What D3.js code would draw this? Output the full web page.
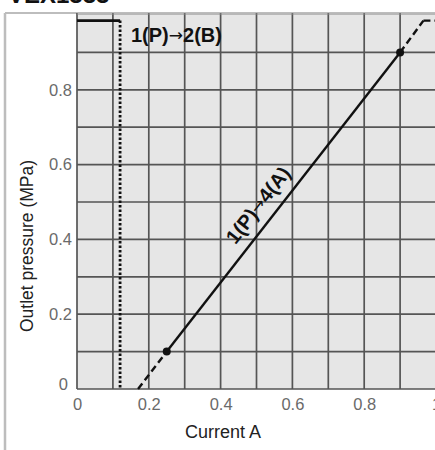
<!DOCTYPE html>
<html><head><meta charset="utf-8">
<script src="https://cdn.jsdelivr.net/npm/d3@7/dist/d3.min.js"></script>
<style>body{margin:0;background:#fff;} svg{display:block;}</style>
</head><body>
<svg id="c" width="435" height="450"></svg>
<script>
// ---- data ----
const xTickValues = [0, 0.2, 0.4, 0.6, 0.8, 1];
const xTickLabels = ["0", "0.2", "0.4", "0.6", "0.8", "1"];
const yTickValues = [0, 0.2, 0.4, 0.6, 0.8];
const yTickLabels = ["0", "0.2", "0.4", "0.6", "0.8"];
const gridSteps = [0, 0.1, 0.2, 0.3, 0.4, 0.5, 0.6, 0.7, 0.8, 0.9, 1.0];
// 1(P)->2(B) curve
const pbCurrent = [0, 0.12, 0.12];
const pbPressure = [0.985, 0.985, 0];
const pbStyle = ["solid", "dotted"];
// 1(P)->4(A) curve
const paCurrent = [0.17, 0.25, 0.9, 0.965, 1.0];
const paPressure = [0, 0.1, 0.9, 0.985, 0.985];
const paStyle = ["dashed", "solid", "dashed", "dashed"];
const markerCurrent = [0.25, 0.9];
const markerPressure = [0.1, 0.9];
const titleText = "VEX1333";
const xTitle = "Current A";
const yTitle = "Outlet pressure (MPa)";
const labelPB = ["1(P)", "\u2192", "2(B)"];
const labelPA = ["1(P)", "\u2192", "4(A)"];

// ---- layout ----
const svg = d3.select("#c");
const x = d3.scaleLinear().domain([0, 1]).range([77, 436]);
const y = d3.scaleLinear().domain([0, 1]).range([389, 15]);
const plotTop = 13;
const font = "Liberation Sans, Arial, sans-serif";

// title (cut off at top, as in the reference)
svg.append("text").attr("x", 8).attr("y", 3)
  .attr("font-family", font).attr("font-weight", "bold")
  .attr("font-size", 24).attr("fill", "#111").text(titleText);

// outer frame
svg.append("line").attr("x1", 5).attr("x2", 5).attr("y1", plotTop).attr("y2", 450)
  .attr("stroke", "#bdbdbd").attr("stroke-width", 2.5);
svg.append("line").attr("x1", 5).attr("x2", 435).attr("y1", plotTop).attr("y2", plotTop)
  .attr("stroke", "#bdbdbd").attr("stroke-width", 2);

// plot background
svg.append("rect").attr("x", x(0)).attr("y", plotTop)
  .attr("width", x(1) - x(0)).attr("height", y(0) - plotTop)
  .attr("fill", "#e6e6e6");

// grid
const g = svg.append("g").attr("stroke", "#555").attr("stroke-width", 1.7);
gridSteps.forEach(v => {
  g.append("line").attr("x1", x(v)).attr("x2", x(v)).attr("y1", plotTop).attr("y2", y(0));
});
gridSteps.forEach(v => {
  if (v <= 0.95) g.append("line").attr("x1", x(0)).attr("x2", x(1)).attr("y1", y(v)).attr("y2", y(v));
});
svg.append("line").attr("x1", x(0)).attr("x2", x(1)).attr("y1", plotTop + 1).attr("y2", plotTop + 1)
  .attr("stroke", "#8a8a8a").attr("stroke-width", 1.2);

// axes tick labels
const xAxis = d3.axisBottom(x).tickValues(xTickValues)
  .tickFormat((d, i) => xTickLabels[i]).tickSize(0).tickPadding(8);
const xa = svg.append("g").attr("transform", `translate(0,${y(0) + 1})`).call(xAxis);
xa.select(".domain").remove();
xa.selectAll("text").attr("font-family", font).attr("font-size", 16.5).attr("fill", "#6a6a6a");

const yAxis = d3.axisLeft(y).tickValues(yTickValues)
  .tickFormat((d, i) => yTickLabels[i]).tickSize(0).tickPadding(5);
const ya = svg.append("g").attr("transform", `translate(${x(0)},0)`).call(yAxis);
ya.select(".domain").remove();
ya.selectAll("text").attr("font-family", font).attr("font-size", 16.5).attr("fill", "#6a6a6a")
  .attr("dy", (d) => d === 0 ? "0.05em" : "0.32em")
  .attr("dx", (d) => d === 0 ? "-4" : "0");

// axis titles
svg.append("text").attr("x", 223).attr("y", 438).attr("text-anchor", "middle")
  .attr("font-family", font).attr("font-size", 18).attr("fill", "#222").text(xTitle);
svg.append("text").attr("transform", "translate(33,246) rotate(-90)").attr("text-anchor", "middle")
  .attr("font-family", font).attr("font-size", 17.5).attr("fill", "#222").text(yTitle);

// curves
const dashFor = s => s === "dashed" ? "7,4" : (s === "dotted" ? "2.5,2" : null);
function drawSegs(xs, ys, styles, width) {
  for (let i = 0; i < styles.length; i++) {
    svg.append("line")
      .attr("x1", x(xs[i])).attr("y1", y(ys[i]))
      .attr("x2", x(xs[i + 1])).attr("y2", y(ys[i + 1]))
      .attr("stroke", "#111").attr("stroke-width", width)
      .attr("stroke-dasharray", dashFor(styles[i]));
  }
}
drawSegs(pbCurrent, pbPressure, pbStyle, 2.8);
drawSegs(paCurrent, paPressure, paStyle, 2.4);

svg.selectAll("circle.m").data(markerCurrent).enter().append("circle")
  .attr("cx", (d) => x(d)).attr("cy", (d, i) => y(markerPressure[i]))
  .attr("r", 4).attr("fill", "#111");

// annotations
function addLabel(sel, parts) {
  sel.attr("font-family", font).attr("font-weight", "bold").attr("font-size", 20).attr("fill", "#111");
  sel.append("tspan").text(parts[0]);
  sel.append("tspan").attr("font-family", "DejaVu Sans").attr("font-weight", "normal")
    .attr("font-size", 17).attr("dy", "-1").text(parts[1]);
  sel.append("tspan").attr("dy", "1").text(parts[2]);
}
addLabel(svg.append("text").attr("x", 131).attr("y", 42), labelPB);

const ang = Math.atan2(y(0.1) - y(0.9), x(0.9) - x(0.25)) * 180 / Math.PI;
addLabel(svg.append("text").attr("transform", `translate(258,205) rotate(${-ang})`)
  .attr("text-anchor", "middle").attr("dy", "0.35em"), labelPA);
</script>
</body></html>
